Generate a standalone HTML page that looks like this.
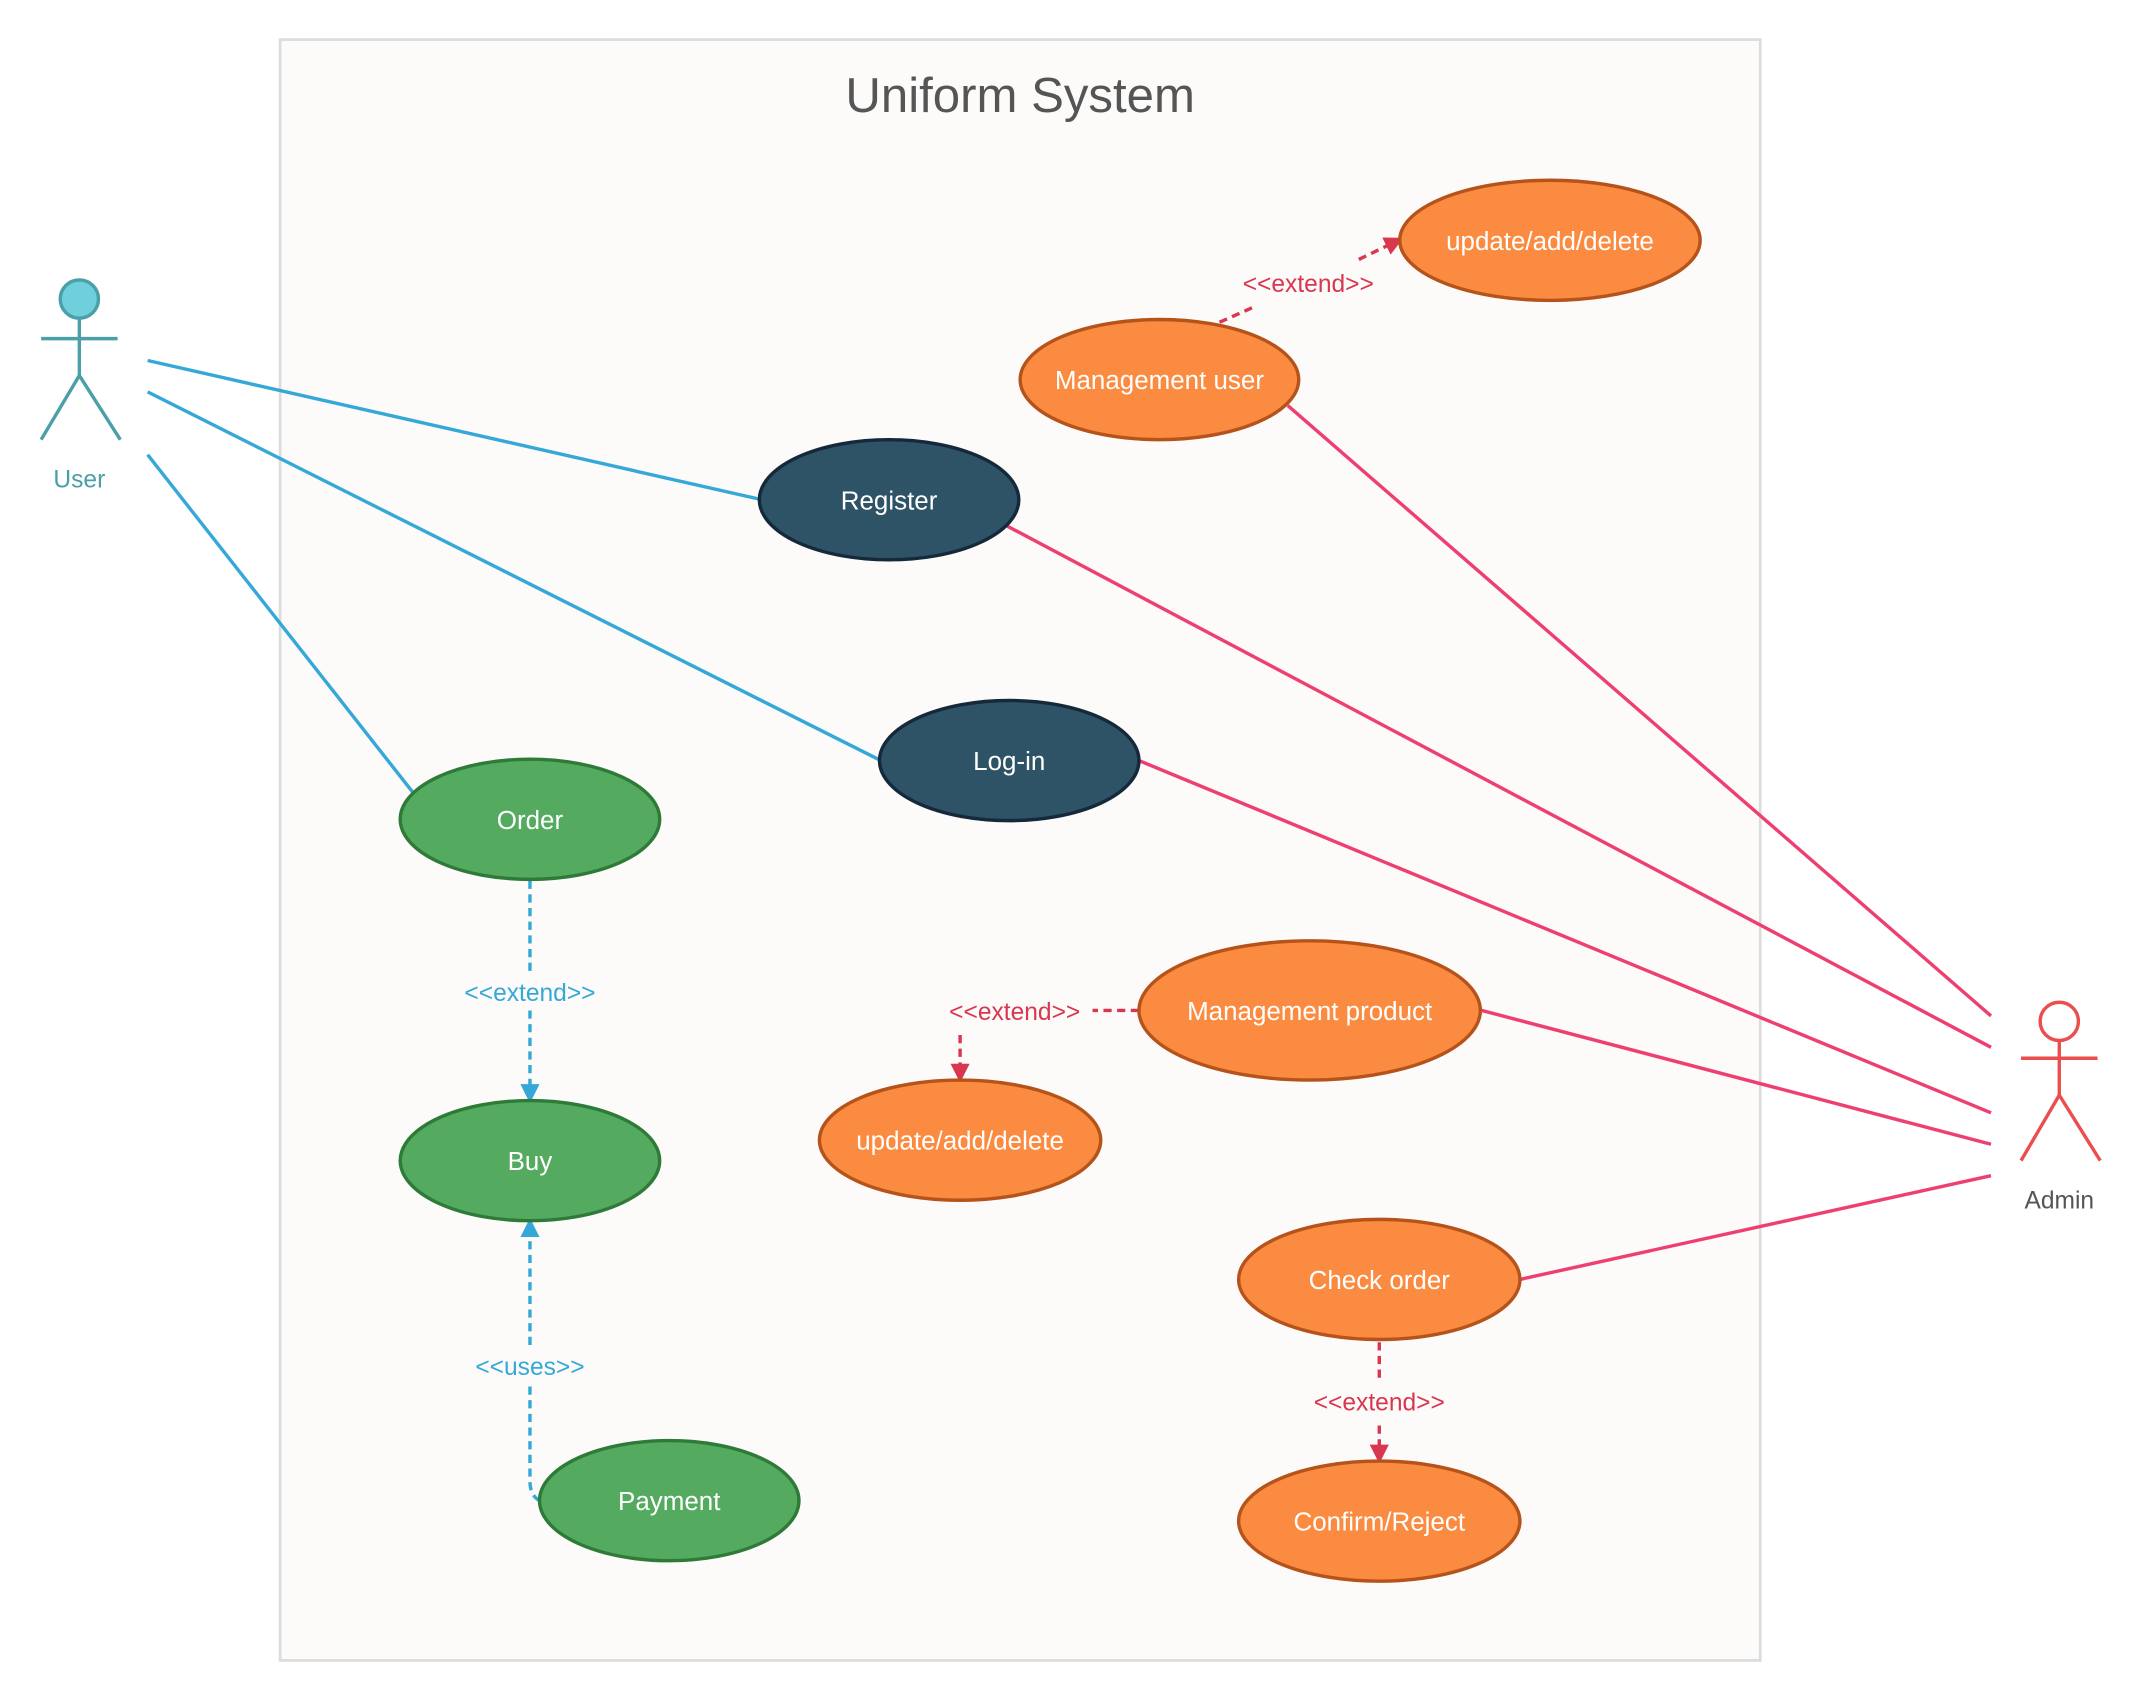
<!DOCTYPE html>
<html><head><meta charset="utf-8"><style>
html,body{margin:0;padding:0;background:#fff;}
svg{display:block;}
text{font-family:"Liberation Sans","DejaVu Sans",sans-serif;}
</style></head><body>
<svg width="2140" height="1700" viewBox="0 0 1567 1245" xmlns="http://www.w3.org/2000/svg">
<defs>
<marker id="ab" markerWidth="14" markerHeight="14" refX="12" refY="7" orient="auto" markerUnits="userSpaceOnUse"><path d="M0,0 L14,7 L0,14 z" fill="#35a8d8"/></marker>
<marker id="ar" markerWidth="14" markerHeight="14" refX="12" refY="7" orient="auto" markerUnits="userSpaceOnUse"><path d="M0,0 L14,7 L0,14 z" fill="#d9364f"/></marker>
</defs>
<rect x="205" y="29" width="1084" height="1187" fill="#fcfbfa" stroke="#dcdcdc" stroke-width="2"/>
<text x="747" y="82" font-size="36" fill="#555" text-anchor="middle">Uniform System</text>

<g stroke="#35a8d8" stroke-width="2.5" fill="none">
<line x1="108" y1="264" x2="558" y2="366"/>
<line x1="108" y1="287" x2="645" y2="557"/>
<line x1="108" y1="333" x2="302" y2="580"/>
</g>
<g stroke="#ee4070" stroke-width="2.5" fill="none">
<line x1="943" y1="297" x2="1458" y2="744"/>
<line x1="737" y1="385" x2="1458" y2="767"/>
<line x1="834" y1="557" x2="1458" y2="815"/>
<line x1="1085" y1="740" x2="1458" y2="838"/>
<line x1="1113" y1="937" x2="1458" y2="861"/>
</g>
<g stroke="#35a8d8" stroke-width="2.5" fill="none" stroke-dasharray="6,4">
<line x1="388" y1="645" x2="388" y2="713"/>
<line x1="388" y1="740" x2="388" y2="806" marker-end="url(#ab)"/>
<path d="M395,1099 Q388,1095 388,1085 L388,1015"/>
<line x1="388" y1="985" x2="388" y2="894" marker-end="url(#ab)"/>
</g>
<g stroke="#d9364f" stroke-width="2.5" fill="none" stroke-dasharray="6,4">
<line x1="893" y1="236" x2="920" y2="224"/>
<line x1="995" y1="190" x2="1026" y2="175" marker-end="url(#ar)"/>
<line x1="834" y1="740" x2="800" y2="740"/>
<line x1="703" y1="758" x2="703" y2="791" marker-end="url(#ar)"/>
<line x1="1010" y1="983" x2="1010" y2="1010"/>
<line x1="1010" y1="1044" x2="1010" y2="1070" marker-end="url(#ar)"/>
</g>
<g font-size="18" text-anchor="middle">
<text x="388" y="733" fill="#35a8d8">&lt;&lt;extend&gt;&gt;</text>
<text x="388" y="1007" fill="#35a8d8">&lt;&lt;uses&gt;&gt;</text>
<text x="958" y="214" fill="#d9364f">&lt;&lt;extend&gt;&gt;</text>
<text x="743" y="747" fill="#d9364f">&lt;&lt;extend&gt;&gt;</text>
<text x="1010" y="1033" fill="#d9364f">&lt;&lt;extend&gt;&gt;</text>
</g>

<g stroke-width="2.5">
<ellipse cx="1135" cy="176" rx="110" ry="44" fill="#fa8b41" stroke="#b5531a"/>
<ellipse cx="849" cy="278" rx="102" ry="44" fill="#fa8b41" stroke="#b5531a"/>
<ellipse cx="651" cy="366" rx="95" ry="44" fill="#2e5266" stroke="#15293a"/>
<ellipse cx="739" cy="557" rx="95" ry="44" fill="#2e5266" stroke="#15293a"/>
<ellipse cx="388" cy="600" rx="95" ry="44" fill="#54aa5e" stroke="#2e7a38"/>
<ellipse cx="388" cy="850" rx="95" ry="44" fill="#54aa5e" stroke="#2e7a38"/>
<ellipse cx="490" cy="1099" rx="95" ry="44" fill="#54aa5e" stroke="#2e7a38"/>
<ellipse cx="959" cy="740" rx="125" ry="51" fill="#fa8b41" stroke="#b5531a"/>
<ellipse cx="703" cy="835" rx="103" ry="44" fill="#fa8b41" stroke="#b5531a"/>
<ellipse cx="1010" cy="937" rx="103" ry="44" fill="#fa8b41" stroke="#b5531a"/>
<ellipse cx="1010" cy="1114" rx="103" ry="44" fill="#fa8b41" stroke="#b5531a"/>
</g>
<g font-size="19" fill="#fff" text-anchor="middle">
<text x="1135" y="183">update/add/delete</text>
<text x="849" y="285">Management user</text>
<text x="651" y="373">Register</text>
<text x="739" y="564">Log-in</text>
<text x="388" y="607">Order</text>
<text x="388" y="857">Buy</text>
<text x="490" y="1106">Payment</text>
<text x="959" y="747">Management product</text>
<text x="703" y="842">update/add/delete</text>
<text x="1010" y="944">Check order</text>
<text x="1010" y="1121">Confirm/Reject</text>
</g>

<g stroke="#4a9fa8" stroke-width="2.5" fill="none">
<circle cx="58" cy="219" r="14" fill="#6fcfdb"/>
<line x1="58" y1="233" x2="58" y2="275"/>
<line x1="30" y1="248" x2="86" y2="248"/>
<line x1="58" y1="275" x2="30" y2="322"/>
<line x1="58" y1="275" x2="88" y2="322"/>
</g>
<text x="58" y="357" font-size="18" fill="#4a9fa8" text-anchor="middle">User</text>
<g stroke="#ea4e4e" stroke-width="2.5" fill="none">
<circle cx="1508" cy="748" r="14" fill="#fff"/>
<line x1="1508" y1="762" x2="1508" y2="802"/>
<line x1="1480" y1="775" x2="1536" y2="775"/>
<line x1="1508" y1="802" x2="1480" y2="850"/>
<line x1="1508" y1="802" x2="1538" y2="850"/>
</g>
<text x="1508" y="885" font-size="18" fill="#555" text-anchor="middle">Admin</text>
</svg>
</body></html>
